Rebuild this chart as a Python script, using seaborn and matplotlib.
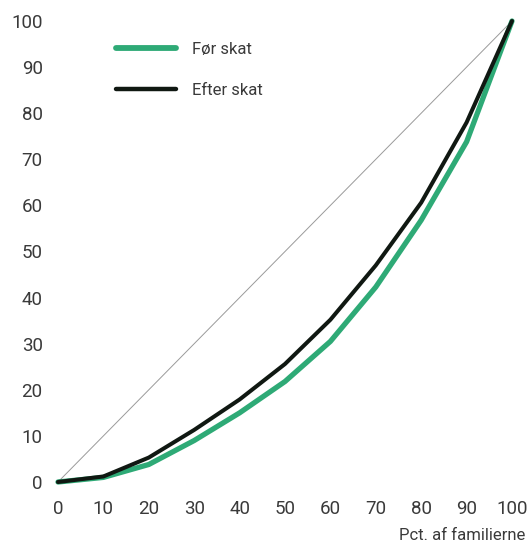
import pandas as pd
import matplotlib.pyplot as plt
import seaborn as sns

# Lorenz curves, cumulative share of income (pct) by share of families (pct)
pct_families = [0, 10, 20, 30, 40, 50, 60, 70, 80, 90, 100]
before_tax = [0, 1.0, 3.8, 9.0, 15.0, 21.8, 30.5, 42.3, 56.8, 73.8, 100]
after_tax = [0, 1.2, 5.3, 11.3, 17.9, 25.6, 35.2, 47.0, 60.6, 78.0, 100]
series_names = ['Før skat', 'Efter skat']
tick_values = [0, 10, 20, 30, 40, 50, 60, 70, 80, 90, 100]

df = pd.concat([
    pd.DataFrame({'x': pct_families, 'y': before_tax, 'serie': series_names[0]}),
    pd.DataFrame({'x': pct_families, 'y': after_tax, 'serie': series_names[1]}),
])

sns.set_style('white')
plt.rcParams['font.family'] = ['Roboto', 'DejaVu Sans']
text_col = '#3a3a3a'

fig = plt.figure(figsize=(5.3, 5.45), dpi=100)
ax = fig.add_axes([58 / 530, 63 / 545, 454 / 530, 461 / 545])

# line of equality
ax.plot([0, 100], [0, 100], color='#9a9a9a', lw=0.7, zorder=1, clip_on=False)

sns.lineplot(data=df, x='x', y='y', hue='serie', hue_order=series_names,
             palette=['#2eaa76', '#101812'], ax=ax, legend=False, zorder=2)
for line, lw in zip(ax.lines[1:], [3.8, 2.9]):
    line.set_linewidth(lw)
    line.set_solid_capstyle('round')
    line.set_solid_joinstyle('round')
    line.set_clip_on(False)

ax.set_xlim(0, 100)
ax.set_ylim(0, 100)
ax.set_xticks(tick_values)
ax.set_yticks(tick_values)
ax.tick_params(length=0, labelsize=13.5, colors=text_col)
ax.tick_params(axis='x', pad=13)
ax.tick_params(axis='y', pad=11)
for lbl in ax.get_yticklabels():
    lbl.set_ha('right')
sns.despine(ax=ax, left=True, bottom=True)
ax.set_xlabel('')
ax.set_ylabel('')

# legend
handles = [plt.Line2D([], [], color='#2eaa76', lw=4.2, solid_capstyle='round'),
           plt.Line2D([], [], color='#101812', lw=3.2, solid_capstyle='round')]
leg = fig.legend(handles, series_names, loc='upper left',
                 bbox_to_anchor=(101 / 530, 1 - 27 / 545), frameon=False,
                 fontsize=12, handlelength=3.6, handletextpad=0.95,
                 labelspacing=1.55)
for t in leg.get_texts():
    t.set_color(text_col)

fig.text(525 / 530, 1 - 535 / 545, 'Pct. af familierne', ha='right', va='center',
         fontsize=12, color=text_col)

plt.savefig('out.png', dpi=100)
plt.close()
